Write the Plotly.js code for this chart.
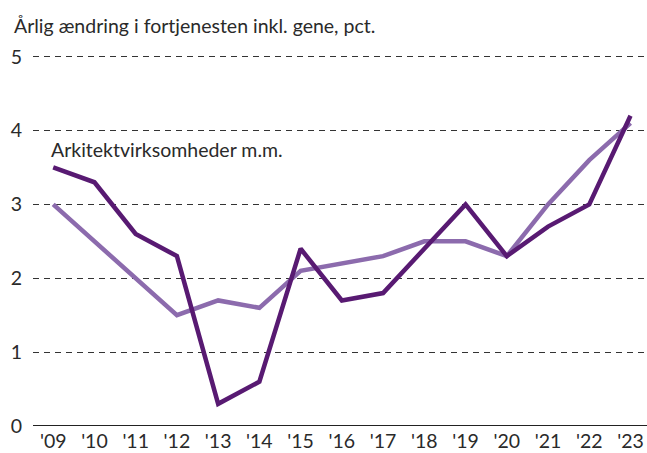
<!DOCTYPE html>
<html>
<head>
<meta charset="utf-8">
<script src="https://cdn.plot.ly/plotly-3.0.1.min.js"></script>
<style>html,body{margin:0;padding:0;background:#fff;}#chart{width:647px;height:453px;}</style>
</head>
<body>
<div id="chart"></div>
<script>
const years = ["'09","'10","'11","'12","'13","'14","'15","'16","'17","'18","'19","'20","'21","'22","'23"];
const arkitekt = [3.5, 3.3, 2.6, 2.3, 0.3, 0.6, 2.4, 1.7, 1.8, 2.4, 3.0, 2.3, 2.7, 3.0, 4.2];
const heleDA = [3.0, 2.5, 2.0, 1.5, 1.7, 1.6, 2.1, 2.2, 2.3, 2.5, 2.5, 2.3, 3.0, 3.6, 4.1];
const yTicks = [0, 1, 2, 3, 4, 5];

const xIdx = years.map((_, i) => i);
const font = {family: 'Lato, "Open Sans", sans-serif', size: 19.5, color: '#2a2a2a', weight: 400};

const traces = [
  {x: xIdx, y: heleDA, type: 'scatter', mode: 'lines', line: {color: '#8c6bad', width: 4.5}, hoverinfo: 'skip'},
  {x: xIdx, y: arkitekt, type: 'scatter', mode: 'lines', line: {color: '#581a72', width: 4.5}, hoverinfo: 'skip'}
];

const layout = {
  width: 647, height: 453,
  margin: {l: 33, r: 0, t: 53, b: 27},
  paper_bgcolor: '#fff', plot_bgcolor: '#fff',
  showlegend: false,
  font: font,
  xaxis: {
    range: [-0.49, 14.4],
    tickvals: xIdx, ticktext: years,
    showgrid: false, zeroline: false, showline: false, ticks: '',
    tickfont: font, ticklabelstandoff: 1
  },
  yaxis: {
    range: [0, 5.05],
    tickvals: yTicks, ticktext: yTicks.map(String),
    showgrid: true, gridcolor: '#333', gridwidth: 1, griddash: '6px,5px',
    zeroline: false, showline: false, ticks: '',
    tickfont: font, ticklabelstandoff: 10,
    fixedrange: true
  },
  shapes: [
    {type: 'line', xref: 'paper', yref: 'y', x0: 0, x1: 1, y0: 0, y1: 0, line: {color: '#222', width: 2}}
  ],
  annotations: [
    {text: 'Årlig ændring i fortjenesten inkl. gene, pct.', xref: 'paper', yref: 'paper', x: -0.035, y: 1.075, xanchor: 'left', yanchor: 'middle', showarrow: false, font: font},
    {text: 'Arkitektvirksomheder m.m.', xref: 'x', yref: 'y', x: -0.1, y: 3.74, xanchor: 'left', yanchor: 'middle', showarrow: false, font: font},
    {text: 'Hele DA', xref: 'x', yref: 'y', x: -0.54, y: 2.22, xanchor: 'left', yanchor: 'middle', showarrow: false, font: font}
  ]
};

Plotly.newPlot('chart', traces, layout, {staticPlot: true, displayModeBar: false});
</script>
</body>
</html>
